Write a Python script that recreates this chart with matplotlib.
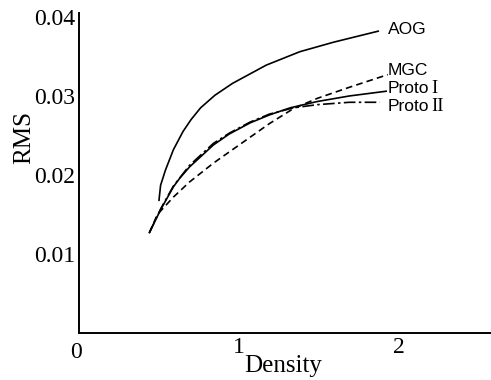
import matplotlib
matplotlib.use("Agg")
import matplotlib.pyplot as plt

# values
aog_x = [0.50, 0.51, 0.54, 0.59, 0.65, 0.70, 0.76, 0.85, 0.96, 1.17, 1.38, 1.59, 1.87]
aog_y = [0.0168, 0.0187, 0.0206, 0.0232, 0.0255, 0.0270, 0.0285, 0.0301, 0.0316, 0.0339, 0.0356, 0.0368, 0.0382]

mgc_x = [0.44, 0.49, 0.59, 0.69, 0.84, 1.05, 1.19, 1.34, 1.49, 1.69, 1.93]
mgc_y = [0.0127, 0.0150, 0.0172, 0.0191, 0.0215, 0.0245, 0.0265, 0.0284, 0.0297, 0.0311, 0.0327]

p1_x = [0.44, 0.51, 0.59, 0.63, 0.69, 0.84, 0.94, 1.07, 1.19, 1.32, 1.49, 1.69, 1.92]
p1_y = [0.0127, 0.0156, 0.0185, 0.0196, 0.0210, 0.0238, 0.0252, 0.0266, 0.0276, 0.0285, 0.0293, 0.0300, 0.0306]

p2_x = [0.44, 0.51, 0.59, 0.69, 0.84, 0.94, 1.07, 1.19, 1.34, 1.49, 1.69, 1.88]
p2_y = [0.0127, 0.0157, 0.0186, 0.0212, 0.0240, 0.0253, 0.0267, 0.0277, 0.0285, 0.0289, 0.0292, 0.0292]

names = ["AOG", "MGC", "Proto", "Proto"]
numerals = ["", "", "I", "II"]
name_y = [0.0384, 0.0332, 0.0310, 0.0287]
name_x = 1.93

x_ticks = [1, 2]
y_ticks = [0.01, 0.02, 0.03, 0.04]
y_ticklabels = ["0.01", "0.02", "0.03", "0.04"]

fig = plt.figure(figsize=(4.91, 3.80), dpi=100)
ax = fig.add_axes([79/491, 1-333/380, 412/491, 320/380])

lw = 1.2
ax.plot(aog_x, aog_y, color="black", lw=lw, ls="-")
ax.plot(mgc_x, mgc_y, color="black", lw=lw, ls=(0, (4, 2.5)))
ax.plot(p1_x, p1_y, color="black", lw=lw, ls="-")
ax.plot(p2_x, p2_y, color="black", lw=lw, ls=(0, (7, 2, 1.5, 2)))

for n, num, yy in zip(names, numerals, name_y):
    ax.text(name_x, yy, n, ha="left", va="center", fontsize=12.5,
            family="Liberation Sans")
    if num:
        # roman numeral in a serif face, as in the original
        ax.annotate(num, (name_x, yy), xytext=(31, 0), textcoords="offset points",
                    ha="left", va="center", fontsize=13.5, family="Liberation Serif")

ax.set_xlim(0, 2.575)
ax.set_ylim(0, 0.0405)
ax.set_xticks(x_ticks)
ax.set_xticklabels([str(t) for t in x_ticks], family="Liberation Serif", fontsize=17)
ax.set_yticks(y_ticks)
ax.set_yticklabels(y_ticklabels, family="Liberation Serif", fontsize=17)
ax.tick_params(length=0, pad=3)

for s in ["top", "right"]:
    ax.spines[s].set_visible(False)
for s in ["left", "bottom"]:
    ax.spines[s].set_linewidth(1.4)

# zero label at the corner
ax.text(-0.02, -0.0012, "0", ha="center", va="top", family="Liberation Serif",
        fontsize=17)

fig.text(24/491, 1-137/380, "RMS", rotation=90, ha="center", va="center",
         family="Liberation Serif", fontsize=18)
fig.text(283/491, 1-366/380, "Density", ha="center", va="center",
         family="Liberation Serif", fontsize=18)

fig.savefig("out.png", dpi=100)
